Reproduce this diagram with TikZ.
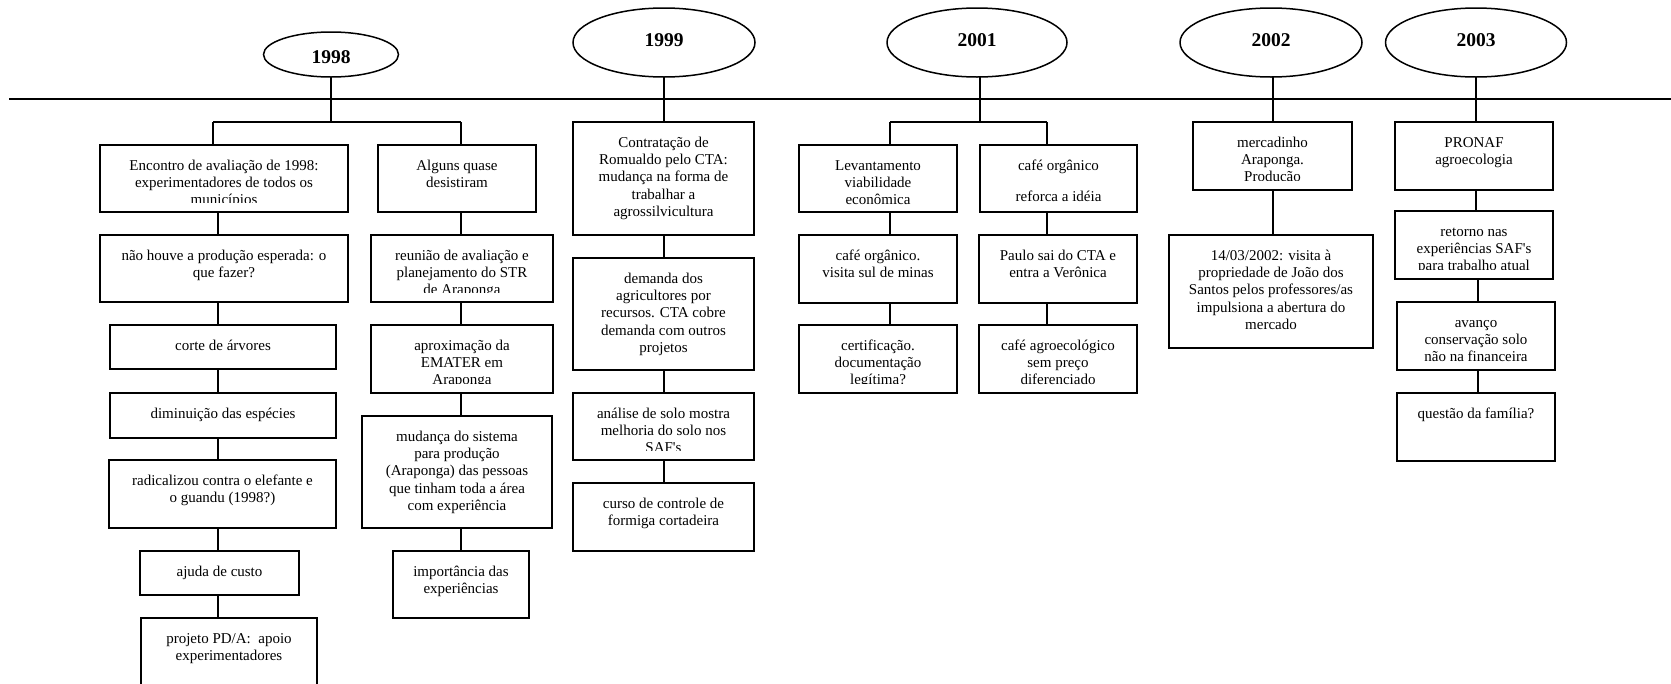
\documentclass[tikz,border=0pt]{standalone}
\usepackage{fontspec}
\setmainfont{Liberation Serif}
\usetikzlibrary{shapes.geometric}

\tikzset{
  tlrect/.style={draw, rectangle, line width=2pt, inner sep=0pt, outer sep=0pt},
  tltext/.style={anchor=north, inner sep=0pt, align=center,
    font=\fontsize{15}{17.3}\selectfont},
  yearshape/.style={draw, ellipse, line width=1.5pt, inner sep=0pt, outer sep=0pt},
  yeartext/.style={inner sep=0pt, font=\fontsize{19.5}{22}\selectfont\bfseries},
  conn/.style={line width=2pt},
  axisline/.style={line width=1.2pt},
  axisheavy/.style={line width=2pt},
}

% box from (x1,y1) to (x2,y2); text set from the top, cut off [#1] above the bottom
\newcommand\tlbox[7][9.5]{%
  \node[tlrect, minimum width={#5-#3}, minimum height={#6-#4}]
    (#2) at ({(#3+#5)/2},{(#4+#6)/2}) {};
  \begin{scope}
    \clip (#2.north west) rectangle ([yshift=#1pt]#2.south east);
    \node[tltext] (#2-t) at ([yshift=-11pt]#2.north) {\rule{0pt}{14pt}#7};
  \end{scope}}

\begin{document}
\begin{tikzpicture}[x=1pt, y=-1pt]
\useasboundingbox (0,0) rectangle (1671,683);

% timeline
\coordinate (tlL) at (9,99);
\coordinate (tlR) at (1671,99);
\draw[axisline] (tlL) -- (tlR);
\coordinate (h1a) at (573,99);  \coordinate (h1b) at (755,99);
\coordinate (h2a) at (1498,99); \coordinate (h2b) at (1567,99);
\draw[axisheavy] (h1a) -- (h1b);
\draw[axisheavy] (h2a) -- (h2b);

% years
\node[yearshape, minimum width=135, minimum height=45] (y98) at (331,54.5) {};
\node[yeartext] (y98t) at ([yshift=-3pt]y98.center) {1998};
\node[yearshape, minimum width=182, minimum height=69] (y99) at (664,42.5) {};
\node[yeartext] (y99t) at ([yshift=2.5pt]y99.center) {1999};
\node[yearshape, minimum width=180, minimum height=69] (y01) at (977,42.5) {};
\node[yeartext] (y01t) at ([yshift=2.5pt]y01.center) {2001};
\node[yearshape, minimum width=182, minimum height=69] (y02) at (1271,42.5) {};
\node[yeartext] (y02t) at ([yshift=2.5pt]y02.center) {2002};
\node[yearshape, minimum width=181, minimum height=69] (y03) at (1476,42.5) {};
\node[yeartext] (y03t) at ([yshift=2.5pt]y03.center) {2003};

% 1998, left column
\tlbox{a1}{100}{145}{348}{212}{Encontro de avaliação de 1998:\\experimentadores de todos os\\municípios}
\tlbox{a2}{100}{235}{348}{302}{não houve a produção esperada: o\\que fazer?}
\tlbox{a3}{110}{325}{336}{369}{corte de árvores}
\tlbox{a4}{110}{393}{336}{438}{diminuição das espécies}
\tlbox{a5}{109}{460}{336}{528}{radicalizou contra o elefante e\\o guandu (1998?)}
\tlbox{a6}{140}{551}{299}{595}{ajuda de custo}
\tlbox{a7}{141}{618}{317}{700}{projeto PD/A:\ \ apoio\\experimentadores}

% 1998, right column
\tlbox{b1}{378}{145}{536}{212}{Alguns quase\\desistiram}
\tlbox{b2}{371}{235}{553}{302}{reunião de avaliação e\\planejamento do STR\\de Araponga}
\tlbox{b3}{371}{325}{553}{393}{aproximação da\\EMATER em\\Araponga}
\tlbox{b4}{362}{416}{552}{528}{mudança do sistema\\para produção\\(Araponga) das pessoas\\que tinham toda a área\\com experiência}
\tlbox{b5}{393}{551}{529}{618}{importância das\\experiências}

% 1999
\tlbox{c1}{573}{122}{754}{235}{Contratação de\\Romualdo pelo CTA:\\mudança na forma de\\trabalhar a\\agrossilvicultura}
\tlbox{c2}{573}{258}{754}{370}{demanda dos\\agricultores por\\recursos. CTA cobre\\demanda com outros\\projetos}
\tlbox{c3}{573}{393}{754}{460}{análise de solo mostra\\melhoria do solo nos\\SAF\textquotesingle s}
\tlbox{c4}{573}{483}{754}{551}{curso de controle de\\formiga cortadeira}

% 2001
\tlbox[5.5]{d1}{799}{145}{957}{212}{Levantamento\\viabilidade\\econômica}
\tlbox{d2}{799}{235}{957}{303}{café orgânico.\\visita sul de minas}
\tlbox{d3}{799}{325}{957}{393}{certificação.\\documentação\\legítima?}
\tlbox{e1}{980}{145}{1137}{212}{café orgânico\\[13.5pt]reforca a idéia}
\tlbox{e2}{979}{235}{1137}{303}{Paulo sai do CTA e\\entra a Verônica}
\tlbox[6]{e3}{979}{325}{1137}{393}{café agroecológico\\sem preço\\diferenciado}

% 2002
\tlbox{f1}{1193}{122}{1352}{190}{mercadinho\\Araponga.\\Producão}
\tlbox{f2}{1169}{235}{1373}{348}{14/03/2002: visita à\\propriedade de João dos\\Santos pelos professores/as\\impulsiona a abertura do\\mercado}

% 2003
\tlbox{g1}{1395}{122}{1553}{190}{PRONAF\\agroecologia}
\tlbox{g2}{1395}{211}{1553}{279}{retorno nas\\experiências SAF\textquotesingle s\\para trabalho atual}
\tlbox[7]{g3}{1397}{302}{1555}{370}{avanço\\conservação solo\\não na financeira}
\tlbox{g4}{1397}{393}{1555}{461}{questão da família?}

% connector positions
\coordinate (s98) at (331,122);
\coordinate (j98L) at (213,122);
\coordinate (j98R) at (461,122);
\coordinate (k98L) at (218,0);
\coordinate (k98R) at (461,0);
\coordinate (k99) at (664,0);
\coordinate (s01) at (980,122);
\coordinate (j01L) at (890,122);
\coordinate (j01R) at (1047,122);
\coordinate (k01L) at (890,0);
\coordinate (k01R) at (1047,0);
\coordinate (k02) at (1273,0);
\coordinate (k03) at (1476,0);
\coordinate (k03b) at (1478,0);

% 1998 connectors
\draw[conn] (y98.south -| s98) -- (s98);
\draw[conn] (j98L) -- (j98R);
\draw[conn] (j98L) -- (j98L |- a1.north);
\draw[conn] (j98R) -- (j98R |- b1.north);
\draw[conn] (a1.south -| k98L) -- (a2.north -| k98L);
\draw[conn] (a2.south -| k98L) -- (a3.north -| k98L);
\draw[conn] (a3.south -| k98L) -- (a4.north -| k98L);
\draw[conn] (a4.south -| k98L) -- (a5.north -| k98L);
\draw[conn] (a5.south -| k98L) -- (a6.north -| k98L);
\draw[conn] (a6.south -| k98L) -- (a7.north -| k98L);
\draw[conn] (b1.south -| k98R) -- (b2.north -| k98R);
\draw[conn] (b2.south -| k98R) -- (b3.north -| k98R);
\draw[conn] (b3.south -| k98R) -- (b4.north -| k98R);
\draw[conn] (b4.south -| k98R) -- (b5.north -| k98R);

% 1999 connectors
\draw[conn] (y99.south -| k99) -- (c1.north -| k99);
\draw[conn] (c1.south -| k99) -- (c2.north -| k99);
\draw[conn] (c2.south -| k99) -- (c3.north -| k99);
\draw[conn] (c3.south -| k99) -- (c4.north -| k99);

% 2001 connectors
\draw[conn] (y01.south -| s01) -- (s01);
\draw[conn] (j01L) -- (j01R);
\draw[conn] (j01L) -- (j01L |- d1.north);
\draw[conn] (j01R) -- (j01R |- e1.north);
\draw[conn] (d1.south -| k01L) -- (d2.north -| k01L);
\draw[conn] (d2.south -| k01L) -- (d3.north -| k01L);
\draw[conn] (e1.south -| k01R) -- (e2.north -| k01R);
\draw[conn] (e2.south -| k01R) -- (e3.north -| k01R);

% 2002 connectors
\draw[conn] (y02.south -| k02) -- (f1.north -| k02);
\draw[conn] (f1.south -| k02) -- (f2.north -| k02);

% 2003 connectors
\draw[conn] (y03.south -| k03) -- (g1.north -| k03);
\draw[conn] (g1.south -| k03) -- (g2.north -| k03);
\draw[conn] (g2.south -| k03b) -- (g3.north -| k03b);
\draw[conn] (g3.south -| k03b) -- (g4.north -| k03b);
\end{tikzpicture}
\end{document}
